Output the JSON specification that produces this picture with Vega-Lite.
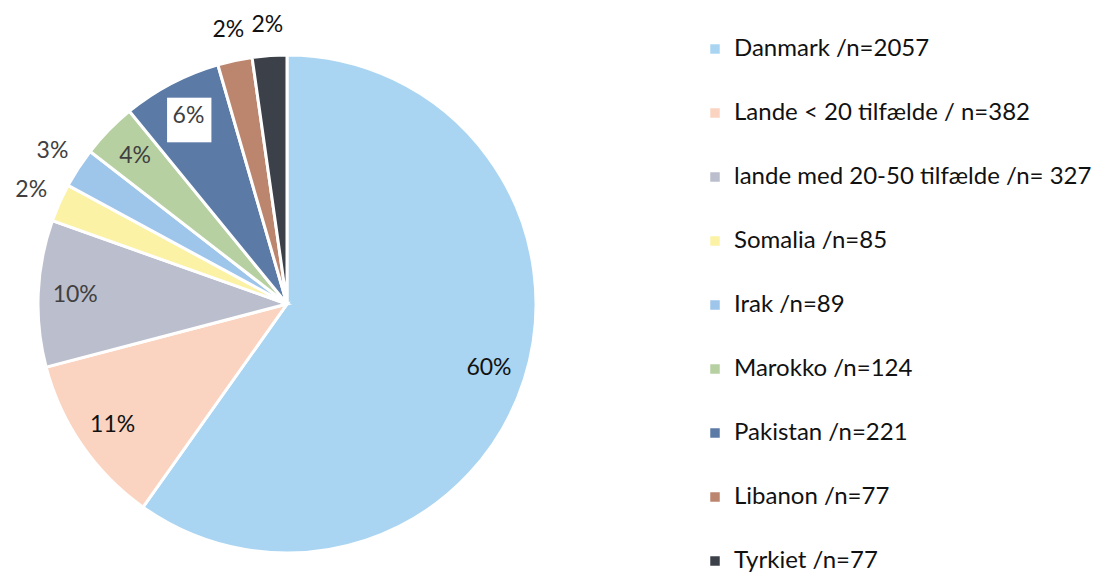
{
  "$schema": "https://vega.github.io/schema/vega-lite/v6.json",
  "width": 574,
  "height": 534,
  "padding": {"left": 0, "top": 13, "right": 0, "bottom": 0},
  "autosize": {"type": "pad"},
  "background": "white",
  "config": {"view": {"stroke": null}, "font": "Lato"},
  "data": {
    "values": [
      {"rank": 1, "kategori": "Danmark /n=2057", "n": 2057, "label": "60%"},
      {"rank": 2, "kategori": "Lande < 20 tilfælde / n=382", "n": 382, "label": "11%"},
      {"rank": 3, "kategori": "lande med 20-50 tilfælde /n= 327", "n": 327, "label": "10%"},
      {"rank": 4, "kategori": "Somalia /n=85", "n": 85, "label": "2%"},
      {"rank": 5, "kategori": "Irak /n=89", "n": 89, "label": "3%"},
      {"rank": 6, "kategori": "Marokko /n=124", "n": 124, "label": "4%"},
      {"rank": 7, "kategori": "Pakistan /n=221", "n": 221, "label": "6%"},
      {"rank": 8, "kategori": "Libanon /n=77", "n": 77, "label": "2%"},
      {"rank": 9, "kategori": "Tyrkiet /n=77", "n": 77, "label": "2%"}
    ]
  },
  "transform": [
    {"stack": "n", "groupby": [], "sort": [{"field": "rank", "order": "ascending"}], "as": ["s0", "s1"]},
    {"calculate": "(datum.s0 + datum.s1) / 2", "as": "mid"}
  ],
  "layer": [
    {
      "mark": {"type": "arc", "outerRadius": 249, "stroke": "white", "strokeWidth": 3},
      "encoding": {
        "theta": {"field": "s0", "type": "quantitative", "scale": {"domain": [0, 3439]}},
        "theta2": {"field": "s1"},
        "color": {
          "field": "kategori",
          "type": "nominal",
          "sort": null,
          "scale": {
            "domain": ["Danmark /n=2057", "Lande < 20 tilfælde / n=382", "lande med 20-50 tilfælde /n= 327", "Somalia /n=85", "Irak /n=89", "Marokko /n=124", "Pakistan /n=221", "Libanon /n=77", "Tyrkiet /n=77"],
            "range": ["#A9D5F2", "#FAD4C0", "#BBBFCD", "#FBF2A6", "#9EC5EA", "#B7D0A2", "#5B7AA6", "#BB856E", "#3C4049"]
          },
          "legend": {
            "title": null,
            "orient": "right",
            "offset": 129,
            "symbolType": "square",
            "symbolSize": 90,
            "symbolStrokeWidth": 0,
            "labelFontSize": 24,
            "labelColor": "#111111",
            "labelOffset": 7,
            "labelLimit": 500,
            "rowPadding": 40
          }
        }
      }
    },
    {
      "transform": [{"filter": "datum.rank == 7"}],
      "mark": {"type": "text", "radius": 210, "fontSize": 58, "font": "DejaVu Sans", "fill": "white", "baseline": "middle"},
      "encoding": {
        "theta": {"field": "mid", "type": "quantitative", "scale": {"domain": [0, 3439]}},
        "text": {"value": "■"}
      }
    },
    {
      "transform": [{"filter": "datum.n >= 100"}],
      "mark": {"type": "text", "radius": 212, "fontSize": 23},
      "encoding": {
        "theta": {"field": "mid", "type": "quantitative", "scale": {"domain": [0, 3439]}},
        "text": {"field": "label"},
        "color": {"condition": {"test": "datum.rank <= 2", "value": "#111111"}, "value": "#404040"}
      }
    },
    {
      "transform": [{"filter": "datum.n < 100"}],
      "mark": {"type": "text", "radius": 280, "fontSize": 23},
      "encoding": {
        "theta": {"field": "mid", "type": "quantitative", "scale": {"domain": [0, 3439]}},
        "text": {"field": "label"},
        "color": {"condition": {"test": "datum.rank >= 8", "value": "#111111"}, "value": "#404040"}
      }
    }
  ]
}
